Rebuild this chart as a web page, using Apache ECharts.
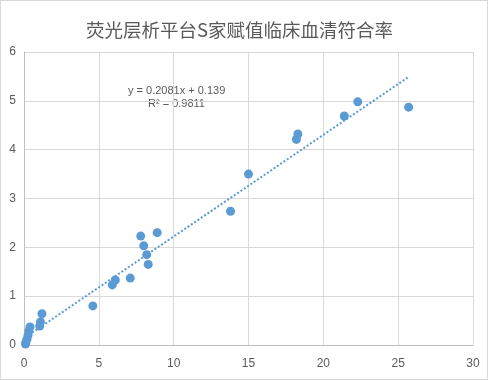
<!DOCTYPE html>
<html>
<head>
<meta charset="utf-8">
<script src="https://cdn.jsdelivr.net/npm/echarts@6/dist/echarts.min.js"></script>
<style>
html,body{margin:0;padding:0;background:#fff;}
#c{position:absolute;left:0;top:0;width:486px;height:378px;border:1px solid #d9d9d9;}
</style>
</head>
<body>
<div id="c"></div>
<script>
const titleText = '荧光层析平台S家赋值临床血清符合率';
const xValues = [0.10, 0.13, 0.20, 0.27, 0.33, 0.40, 1.05, 1.10, 1.20, 4.6, 5.9, 6.1, 7.1, 7.8, 8.0, 8.2, 8.3, 8.9, 13.8, 15.0, 18.2, 18.3, 21.4, 22.3, 25.7];
const yValues = [0.02, 0.06, 0.12, 0.20, 0.29, 0.37, 0.39, 0.47, 0.64, 0.80, 1.23, 1.33, 1.37, 2.23, 2.03, 1.85, 1.65, 2.30, 2.74, 3.50, 4.21, 4.32, 4.69, 4.98, 4.87];
const trendX = [0.10, 25.7];
const trendY = [0.16, 5.49];
const equationLines = ['y = 0.2081x + 0.139', 'R² = 0.9811'];
const xTicks = [0, 5, 10, 15, 20, 25, 30];
const yTicks = [0, 1, 2, 3, 4, 5, 6];

const chart = echarts.init(document.getElementById('c'), null, {renderer: 'canvas'});
const font = '"Noto Sans CJK SC", "Noto Sans", sans-serif';
chart.setOption({
  animation: false,
  textStyle: {fontFamily: font},
  title: {
    text: titleText, left: 80, top: 15,
    textStyle: {fontFamily: font, fontSize: 18.5, fontWeight: 'normal', color: '#595959'}
  },
  grid: {left: 23, right: 14, top: 51, bottom: 34, containLabel: false},
  xAxis: {
    type: 'value', min: xTicks[0], max: xTicks[xTicks.length-1], interval: 5,
    axisLine: {show: true, lineStyle: {color: '#bfbfbf'}},
    axisTick: {show: false},
    splitLine: {show: true, lineStyle: {color: '#d9d9d9'}},
    axisLabel: {color: '#595959', fontSize: 12, margin: 13, fontFamily: 'Liberation Sans, sans-serif'}
  },
  yAxis: {
    type: 'value', min: yTicks[0], max: yTicks[yTicks.length-1], interval: 1,
    axisLine: {show: true, lineStyle: {color: '#bfbfbf'}},
    axisTick: {show: false},
    splitLine: {show: true, lineStyle: {color: '#d9d9d9'}},
    axisLabel: {color: '#595959', fontSize: 12, margin: 8, fontFamily: 'Liberation Sans, sans-serif'}
  },
  series: [
    {
      type: 'line', data: trendX.map((x, i) => [x, trendY[i]]),
      symbol: 'none', silent: true,
      lineStyle: {color: '#5b9bd5', width: 2, type: [2, 2]}, z: 1
    },
    {
      type: 'scatter', data: xValues.map((x, i) => [x, yValues[i]]),
      symbol: 'circle', symbolSize: 9,
      itemStyle: {color: '#5b9bd5', opacity: 1}, z: 2
    }
  ],
  graphic: [
    {type: 'text', left: 127, top: 84, style: {text: equationLines[0], fill: '#595959', font: '11px "Liberation Sans", sans-serif'}},
    {type: 'text', left: 147, top: 97, style: {text: equationLines[1], fill: '#595959', font: '11px "Liberation Sans", sans-serif'}}
  ]
});
</script>
</body>
</html>
